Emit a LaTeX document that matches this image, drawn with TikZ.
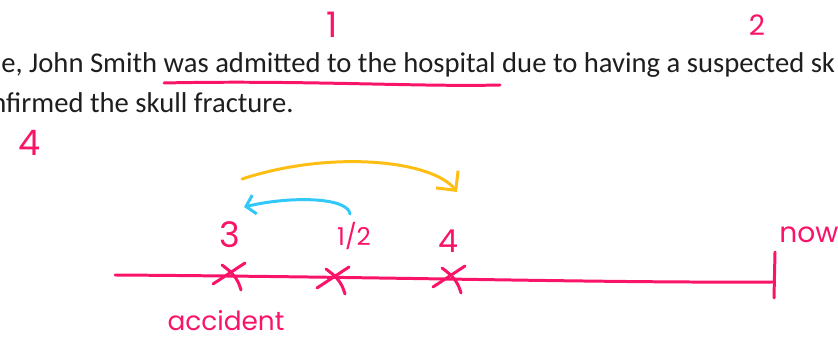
\documentclass[tikz,border=0pt]{standalone}
\usepackage{fontspec}
\setmainfont{Carlito}
\newfontfamily\handfont{Poppins}
\usepackage{tikz}
\usetikzlibrary{
    arrows.meta,
    positioning,
    calc
}

\definecolor{inkPink}{RGB}{250,20,105}
\definecolor{inkYellow}{RGB}{255,190,20}
\definecolor{inkBlue}{RGB}{50,200,250}
\definecolor{textGray}{RGB}{30,30,30}

\tikzset{
    ink/.style={line width=1.7pt, line cap=round, line join=round},
    hand/.style={inkPink, inner sep=0pt},
    body/.style={textGray, font=\fontsize{16.3}{22.8}\selectfont, inner sep=0pt, anchor=base west}
}

\begin{document}
\begin{tikzpicture}[x=0.02cm, y=-0.02cm]
\useasboundingbox (0,0) rectangle (838,340);
\clip (0,0) rectangle (838,340);

% Typed text
\node[body] (lineA) at (1,73) {e, John Smith was admitted to the hospital due to having a suspected sk};
\node[body] (lineB) at (-9,113) {nfirmed the skull fracture.};

% Underline
\draw[ink, inkPink] (164,83) .. controls (300,80) and (420,87) .. (500,85);

% Handwritten numbers above the text
\node[hand, font=\handfont\fontsize{20}{20}\selectfont] (markOne) at (332,25) {1};
\node[hand, font=\handfont\fontsize{16}{16}\selectfont] (markTwo) at (757,25) {2};
\node[hand, font=\handfont\fontsize{20}{20}\selectfont] (markFour) at (30,143) {4};

% Timeline
\coordinate (lineStart) at (115,275);
\coordinate (lineEnd) at (773,282);
\draw[ink, inkPink] (lineStart) .. controls (400,277) and (600,283) .. (lineEnd);
\draw[ink, inkPink] ($(lineEnd)+(2,-30)$) -- ($(lineEnd)+(1,16)$);

% Crosses on the line
\coordinate (xAcc) at (229,275);
\coordinate (xHalf) at (333,279);
\coordinate (xFour) at (449,278);
\foreach \c in {xAcc, xHalf, xFour} {
    \draw[ink, inkPink] ($(\c)+(-16,9)$) -- ($(\c)+(16,-12)$);
    \draw[ink, inkPink] ($(\c)+(-7,-10)$) .. controls ($(\c)+(4,-2)$) and ($(\c)+(9,4)$) .. ($(\c)+(12,15)$);
}

% Labels
\node[hand, font=\handfont\fontsize{20}{20}\selectfont] (labThree) at (230,235) {3};
\node[hand, font=\handfont\fontsize{14}{14}\selectfont] (labHalf) at (354,236) {1/2};
\node[hand, font=\handfont\fontsize{18}{18}\selectfont] (labFour) at (448,241) {4};
\node[hand, font=\handfont\fontsize{16}{16}\selectfont, anchor=west] (labNow) at (779,235) {now};
\node[hand, font=\handfont\fontsize{15}{15}\selectfont] (labAcc) at (226,321) {accident};

% Arrows between events
\coordinate (blueStart) at (350,214);
\coordinate (blueEnd) at (244,207);
\draw[ink, inkBlue, -{Straight Barb[length=5pt, width=11pt]}]
    (blueStart) .. controls (348,197) and (290,196) .. (blueEnd);

\coordinate (yellowStart) at (242,179);
\coordinate (yellowEnd) at (457,192);
\draw[ink, inkYellow, -{Straight Barb[length=8pt, width=16pt]}]
    (yellowStart) .. controls (330,150) and (432,160) .. (yellowEnd);

\end{tikzpicture}
\end{document}
